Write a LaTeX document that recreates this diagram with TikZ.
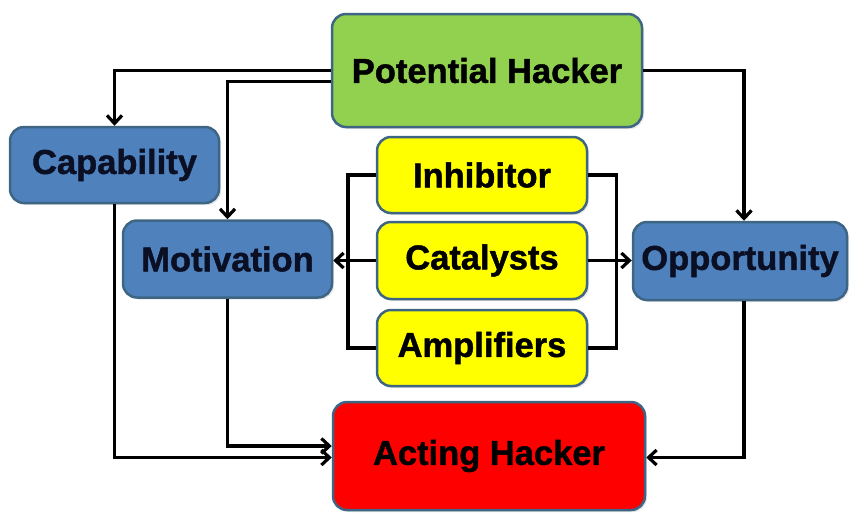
\documentclass[tikz,border=0pt]{standalone}
\usepackage{fontspec}
\setmainfont{Liberation Sans}[BoldFeatures={FakeBold=1.3}]
\usetikzlibrary{arrows.meta,calc,shadows}
\definecolor{bordc}{HTML}{3E6684}
\definecolor{greenf}{HTML}{92D050}
\definecolor{bluef}{HTML}{4F81BD}
\definecolor{yellowf}{HTML}{FFFF00}
\definecolor{redf}{HTML}{FF0000}
\definecolor{navytxt}{HTML}{0A0F24}
\begin{document}
\begin{tikzpicture}[x=1pt,y=-1pt,
  box/.style={draw=bordc, line width=2.5pt, rounded corners=14pt, inner sep=0pt,
    font=\fontsize{34.5}{37}\selectfont\bfseries,
    drop shadow={opacity=0.18, shadow xshift=2pt, shadow yshift=-2pt}},
  greenbox/.style={box, fill=greenf, text=black},
  bluebox/.style={box, fill=bluef, text=navytxt},
  yellowbox/.style={box, fill=yellowf, text=black},
  redbox/.style={box, fill=redf, text=black},
  conn/.style={line width=3.5pt, draw=black},
  arr/.style={conn, -{Straight Barb[length=8pt,width=15pt,line width=3.2pt]}}
]
\useasboundingbox (0,0) rectangle (850,512);
\node[greenbox, minimum width=310pt, minimum height=113pt] (PH) at (487,70.5) {Potential Hacker};
\node[bluebox, minimum width=209pt, minimum height=76pt] (Cap) at (114.5,165) {Capability};
\node[bluebox, minimum width=209pt, minimum height=77pt] (Mot) at (227.5,259) {Motivation};
\node[yellowbox, minimum width=210pt, minimum height=76pt] (Inh) at (482,175) {Inhibitor};
\node[yellowbox, minimum width=210pt, minimum height=77pt] (Cat) at (482,260.5) {Catalysts};
\node[yellowbox, minimum width=210pt, minimum height=76pt] (Amp) at (482,348) {Amplifiers};
\node[bluebox, minimum width=214pt, minimum height=78pt] (Opp) at (740,261) {Opportunity};
\node[redbox, minimum width=312pt, minimum height=108pt] (AH) at (489,456) {Acting Hacker};

\draw[arr] (PH.west) -| (Cap.north);
\draw[arr] ($(PH.west)+(0,11)$) -| (Mot.north);
\draw[arr] (PH.east) -| ($(Opp.north)+(4,0)$);
\draw[arr] (Cap.south) |- ($(AH.west)+(0,1.5)$);
\draw[arr] (Mot.south) |- ($(AH.west)+(0,-10)$);
\draw[arr] ($(Opp.south)+(4,0)$) |- ($(AH.east)+(0,1.5)$);
\draw[conn] (Inh.west) -- ++(-28,0) |- (Amp.west);
\draw[conn] (Inh.east) -- ++(28,0) |- (Amp.east);
\draw[arr] (Cat.west) -- (Cat.west -| Mot.east);
\draw[arr] (Cat.east) -- (Cat.east -| Opp.west);
\end{tikzpicture}
\end{document}
